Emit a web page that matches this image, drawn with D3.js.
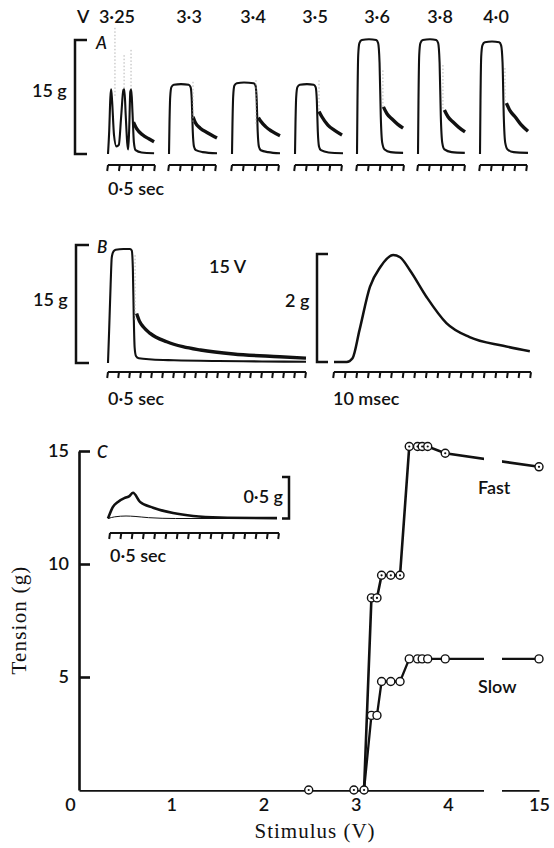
<!DOCTYPE html>
<html>
<head>
<meta charset="utf-8">
<script src="https://cdn.jsdelivr.net/npm/d3@7"></script>
<style>
  body { margin: 0; background: #fff; }
  text { font-family: Lato, "Open Sans", sans-serif; font-weight: 600; fill: #111; }
  .serif { font-family: "Liberation Serif", "DejaVu Serif", serif; font-weight: 400; }
</style>
</head>
<body>
<script>
// ---------- Panel A: tension records at each stimulus strength (time s, tension g)
var stimLabels = ["3·25", "3·3", "3·4", "3·5", "3·6", "3·8", "4·0"];
var lowerA = [
  [[0,0],[0.05,3],[0.1,7.5],[0.13,8.5],[0.17,7],[0.25,2.5],[0.35,1.0],[0.45,1.2],[0.55,5],[0.64,8.4],[0.68,8.5],[0.74,5],[0.8,1.5],[0.84,0.6],[0.88,3],[0.93,8.2],[0.97,8.5],[1.02,5.5],[1.08,1.5],[1.15,0.5],[1.4,0.2],[1.92,0.1]],
  [[0,0],[0.02,4],[0.05,7.5],[0.1,8.8],[0.2,9.1],[0.5,9.2],[0.82,9.1],[0.9,8.8],[0.95,7],[0.99,3],[1.04,1],[1.12,0.5],[1.4,0.25],[2,0.1]],
  [[0,0],[0.02,4],[0.05,7.6],[0.1,9.0],[0.2,9.3],[0.5,9.4],[0.9,9.3],[0.98,9.0],[1.03,7],[1.07,3],[1.12,1],[1.2,0.5],[1.5,0.25],[2,0.1]],
  [[0,0],[0.02,4],[0.05,7.5],[0.1,8.8],[0.2,9.1],[0.5,9.2],[0.78,9.1],[0.86,8.8],[0.91,7],[0.95,3],[1.0,1],[1.08,0.5],[1.4,0.2],[2,0.1]],
  [[0,0],[0.02,7],[0.05,13],[0.1,14.6],[0.2,15],[0.5,15.1],[0.8,15],[0.88,14.6],[0.94,12],[0.99,5],[1.05,1.5],[1.15,0.6],[1.4,0.25],[1.92,0.15]],
  [[0,0],[0.02,7],[0.05,13],[0.1,14.6],[0.2,15],[0.5,15.1],[0.76,15],[0.84,14.6],[0.9,12],[0.95,5],[1.01,1.5],[1.1,0.6],[1.4,0.25],[1.95,0.15]],
  [[0,0],[0.02,7],[0.05,12.8],[0.1,14.3],[0.2,14.7],[0.5,14.8],[0.8,14.7],[0.88,14.3],[0.94,12],[0.99,5],[1.05,1.5],[1.15,0.6],[1.4,0.25],[2,0.15]]
];
var upperA = [
  [[1.06,4.2],[1.2,3.3],[1.45,2.5],[1.7,2.0],[1.92,1.6]],
  [[1.0,4.9],[1.1,4.1],[1.3,3.4],[1.6,2.8],[2,2.1]],
  [[1.1,4.8],[1.2,4.3],[1.4,3.6],[1.65,3.0],[2,2.4]],
  [[1.0,5.6],[1.12,4.9],[1.37,3.8],[1.65,3.1],[1.96,2.5]],
  [[1.1,6.2],[1.25,5.3],[1.46,4.6],[1.7,3.9],[1.92,3.4]],
  [[1.1,5.8],[1.25,4.9],[1.46,4.2],[1.7,3.5],[1.96,2.9]],
  [[1.1,6.7],[1.25,5.7],[1.46,4.9],[1.7,3.9],[2,3.0]]
];
// stimulus artefacts: [record, time, top g, bottom g]
var artefactsA = [[0,0.29,16.6,7.5],[0,0.67,13,8.5],[0,0.96,13.7,8.5],[1,1.0,9.5,4.2],[2,1.0,9.7,3.8],
  [3,1.0,9.7,5.8],[4,1.08,11,6.2],[5,1.04,11.7,5.8],[6,1.04,11.3,6.7]];

// ---------- Panel B: 15 V tetanus (s, g) and single twitch (ms, g)
var lowerB = [[0,0],[0.05,4],[0.12,10],[0.17,13.4],[0.25,14.2],[0.35,14.4],[0.7,14.5],[1.0,14.5],[1.08,14.3],[1.13,12],[1.17,6],[1.21,2],[1.27,0.9],[1.4,0.6],[2,0.45],[3,0.35],[5,0.25],[7,0.2],[9,0.15]];
var upperB = [[1.3,6.3],[1.45,5.2],[1.6,4.6],[1.9,3.8],[2.67,2.7],[3.4,2.07],[4.2,1.65],[5.7,1.14],[7.8,0.8],[9,0.62]];
var artefactB = [1.23, 13.7, 5.3];
var twitchMs = [0, 11, 16, 22, 31, 40, 51, 57, 65.5, 80, 97, 117, 146, 169];
var twitchG = [0, 0, 0.07, 0.59, 1.39, 1.76, 1.98, 1.94, 1.70, 1.20, 0.72, 0.46, 0.30, 0.20];

// ---------- Panel C inset (s, g)
var insetUpper = [[0,0],[0.22,0.14],[0.44,0.2],[0.76,0.25],[0.95,0.27],[1.11,0.31],[1.42,0.2],[2.0,0.13],[2.89,0.066],[3.78,0.03],[4.98,0.012],[7.5,0.005]];
var insetLower = [[0,0],[0.3,0.02],[0.8,0.03],[1.2,0.025],[1.8,0.01],[3,0],[7.5,0]];

// ---------- Panel C: peak tension against stimulus
var fastVolts = [2.49, 2.98, 3.09, 3.17, 3.23, 3.28, 3.38, 3.48, 3.58, 3.67, 3.72, 3.78, 3.97, 15];
var fastTension = [0, 0, 0, 8.5, 8.5, 9.5, 9.5, 9.5, 15.2, 15.2, 15.2, 15.2, 14.9, 14.3];
var slowVolts = [3.09, 3.17, 3.23, 3.28, 3.38, 3.48, 3.58, 3.67, 3.72, 3.78, 3.97, 15];
var slowTension = [0, 3.3, 3.3, 4.8, 4.8, 4.8, 5.8, 5.8, 5.8, 5.8, 5.8, 5.8];
var xTicks = [0, 1, 2, 3, 4, 15];
var yTicks = [5, 10, 15];

var svg = d3.select("body").append("svg")
    .attr("width", 554)
    .attr("height", 848);

function traceLine(xs, ys) {
    return d3.line()
        .x(function (d) { return xs(d[0]); })
        .y(function (d) { return ys(d[1]); })
        .curve(d3.curveMonotoneX);
}

function drawMarker(x0, x1, y, n) {
    var s = d3.scaleLinear().domain([0, n]).range([x0, x1]);
    var p = "M" + x0 + "," + y + "H" + x1;
    d3.range(n + 1).forEach(function (i) {
        p += "M" + s(i) + "," + y + "l-0.8,6";
    });
    svg.append("path").attr("d", p)
        .style("fill", "none").style("stroke", "#111").style("stroke-width", 2);
}

function drawBracket(x, y0, y1, serif) {
    svg.append("path")
        .attr("d", "M" + (x + serif) + "," + y0 + "H" + x + "V" + y1 + "H" + (x + serif))
        .style("fill", "none").style("stroke", "#111").style("stroke-width", 2.5);
}

function label(x, y, txt, size, anchor, cls) {
    return svg.append("text").attr("x", x).attr("y", y)
        .attr("class", cls || null)
        .style("font-size", size + "px")
        .style("text-anchor", anchor || "start")
        .text(txt);
}

// ================= Panel A
var groupLeft = [108, 169, 232, 295, 357, 418, 480];
var labelCentre = [117, 189, 253, 315, 377, 440, 496];
var yA = d3.scaleLinear().domain([0, 15]).range([154, 40]);

label(77, 23, "V", 18);
stimLabels.forEach(function (lab, i) {
    label(labelCentre[i], 23, lab, 18, "middle");
    var xA = d3.scaleLinear().domain([0, 2]).range([groupLeft[i], groupLeft[i] + 48]);
    svg.append("path").attr("d", traceLine(xA, yA)(lowerA[i]))
        .style("fill", "none").style("stroke", "#111").style("stroke-width", 2.1);
    svg.append("path").attr("d", traceLine(xA, yA)(upperA[i]))
        .style("fill", "none").style("stroke", "#111").style("stroke-width", 3.4);
    artefactsA.filter(function (a) { return a[0] === i; }).forEach(function (a) {
        svg.append("line")
            .attr("x1", xA(a[1])).attr("x2", xA(a[1]))
            .attr("y1", yA(a[2])).attr("y2", yA(a[3]))
            .style("stroke", "#aaa").style("stroke-width", 0.9)
            .style("stroke-dasharray", "1.5,2");
    });
    drawMarker(groupLeft[i], groupLeft[i] + 47, 165, 4);
});
drawBracket(75, yA(15), yA(0), 12);
label(32, 97, "15 g", 18);
label(96, 49, "A", 17).style("font-style", "italic");
label(108, 195, "0·5 sec", 18);

// ================= Panel B
var xB = d3.scaleLinear().domain([0, 9]).range([108, 306]);
var yB = d3.scaleLinear().domain([0, 15]).range([363, 245]);
svg.append("path").attr("d", traceLine(xB, yB)(lowerB))
    .style("fill", "none").style("stroke", "#111").style("stroke-width", 2.1);
svg.append("path").attr("d", traceLine(xB, yB)(upperB))
    .style("fill", "none").style("stroke", "#111").style("stroke-width", 3.4);
svg.append("line")
    .attr("x1", xB(artefactB[0])).attr("x2", xB(artefactB[0]))
    .attr("y1", yB(artefactB[1])).attr("y2", yB(artefactB[2]))
    .style("stroke", "#aaa").style("stroke-width", 0.9).style("stroke-dasharray", "1.5,2");
drawBracket(76, yB(15), yB(0), 13);
drawMarker(108, 306, 372, 18);
label(33, 306, "15 g", 18);
label(97, 253, "B", 17).style("font-style", "italic");
label(209, 273, "15 V", 18);
label(108, 405, "0·5 sec", 18);

var xT = d3.scaleLinear().domain([0, 170]).range([334, 531]);
var yT = d3.scaleLinear().domain([0, 2]).range([362, 254]);
var twitch = twitchMs.map(function (t, i) { return [t, twitchG[i]]; });
svg.append("path").attr("d", traceLine(xT, yT)(twitch))
    .style("fill", "none").style("stroke", "#111").style("stroke-width", 2.5);
drawBracket(317, yT(2), yT(0), 11);
drawMarker(334, 531, 372, 17);
label(285, 307, "2 g", 18);
label(333, 405, "10 msec", 18);

// ================= Panel C
var x = d3.scaleLinear().domain([0, 4, 15]).range([79, 448, 539]);
var y = d3.scaleLinear().domain([0, 15]).range([790, 451]);

var clip = svg.append("defs").append("clipPath").attr("id", "axisBreak");
clip.append("rect").attr("x", 0).attr("y", 0).attr("width", 484).attr("height", 848);
clip.append("rect").attr("x", 502).attr("y", 0).attr("width", 52).attr("height", 848);

var yAxis = svg.append("g")
    .attr("transform", "translate(" + x(0) + ",0)")
    .call(d3.axisLeft(y).tickValues(yTicks).tickSize(-11).tickSizeOuter(0).tickPadding(10));
var xAxis = svg.append("g")
    .attr("transform", "translate(0," + y(0) + ")")
    .attr("clip-path", "url(#axisBreak)")
    .call(d3.axisBottom(x).tickValues(xTicks).tickSize(-12).tickSizeOuter(0).tickPadding(8)
        .tickFormat(d3.format("d")));
[yAxis, xAxis].forEach(function (ax) {
    ax.select(".domain").style("stroke", "#111").style("stroke-width", 2.6);
    ax.selectAll(".tick line").style("stroke", "#111").style("stroke-width", 2.6);
    ax.selectAll(".tick text").style("font-size", "18px").style("font-weight", 600)
        .style("font-family", "Lato, 'Open Sans', sans-serif").style("fill", "#111");
});
xAxis.selectAll(".tick").filter(function (d) { return d === 0; })
    .each(function () {
        d3.select(this).select("line").remove();
        d3.select(this).select("text").attr("x", -9);
    });

var vLine = d3.line()
    .x(function (d) { return x(d[0]); })
    .y(function (d) { return y(d[1]); });
var fast = fastVolts.map(function (v, i) { return [v, fastTension[i]]; });
var slow = slowVolts.map(function (v, i) { return [v, slowTension[i]]; });

svg.append("path").attr("d", vLine(slow))
    .attr("clip-path", "url(#axisBreak)")
    .style("fill", "none").style("stroke", "#111").style("stroke-width", 2.3);
svg.append("path").attr("d", vLine(fast.slice(2)))
    .attr("clip-path", "url(#axisBreak)")
    .style("fill", "none").style("stroke", "#111").style("stroke-width", 2.6);

svg.selectAll("circle.slow").data(slow.slice(1)).enter().append("circle")
    .attr("class", "slow")
    .attr("cx", function (d) { return x(d[0]); })
    .attr("cy", function (d) { return y(d[1]); })
    .attr("r", 4)
    .style("fill", "#fff").style("stroke", "#111").style("stroke-width", 1.4);
svg.selectAll("circle.fast").data(fast).enter().append("circle")
    .attr("class", "fast")
    .attr("cx", function (d) { return x(d[0]); })
    .attr("cy", function (d) { return y(d[1]); })
    .attr("r", 4)
    .style("fill", "#fff").style("stroke", "#111").style("stroke-width", 1.4);
svg.selectAll("circle.fastdot").data(fast).enter().append("circle")
    .attr("class", "fastdot")
    .attr("cx", function (d) { return x(d[0]); })
    .attr("cy", function (d) { return y(d[1]); })
    .attr("r", 1.1)
    .style("fill", "#111");

label(97, 458, "C", 17).style("font-style", "italic");
label(478, 494, "Fast", 18);
label(478, 693, "Slow", 18);
label(315, 838, "Stimulus (V)", 21, "middle", "serif").style("letter-spacing", "1px");
label(0, 0, "Tension (g)", 21, "middle", "serif")
    .attr("transform", "translate(26,620) rotate(-90)")
    .style("letter-spacing", "1.2px");

// inset record
var xI = d3.scaleLinear().domain([0, 7.5]).range([108, 277]);
var yI = d3.scaleLinear().domain([0, 0.5]).range([518.5, 477]);
svg.append("path").attr("d", traceLine(xI, yI)(insetUpper))
    .style("fill", "none").style("stroke", "#111").style("stroke-width", 2.6);
svg.append("path").attr("d", traceLine(xI, yI)(insetLower))
    .style("fill", "none").style("stroke", "#111").style("stroke-width", 1);
drawBracket(289, yI(0.5), yI(0), -7);
drawMarker(110, 279, 533, 15);
label(283, 503, "0·5 g", 18, "end");
label(110, 562, "0·5 sec", 18);
</script>
</body>
</html>
